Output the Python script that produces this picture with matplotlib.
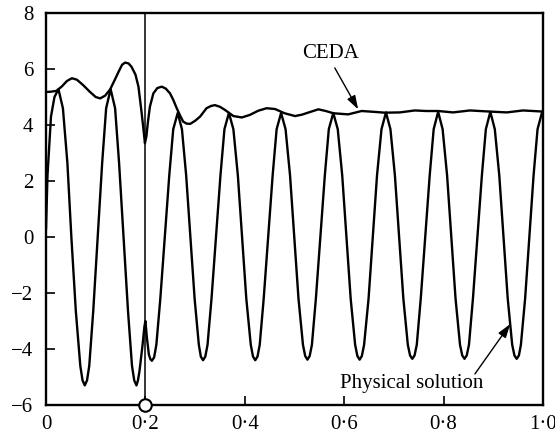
import matplotlib
matplotlib.use('Agg')
import matplotlib.pyplot as plt

plt.rcParams['font.family'] = ['Liberation Serif', 'DejaVu Serif']
plt.rcParams['font.size'] = 15

# === Data ===
phys_x = [0.000, 0.003, 0.010, 0.017, 0.025,
          0.034, 0.043, 0.051, 0.060, 0.069, 0.0735, 0.078, 0.0825,
          0.087, 0.095, 0.104, 0.113, 0.121, 0.130,
          0.139, 0.147, 0.156, 0.165, 0.173, 0.1775, 0.182,
          0.185, 0.188, 0.194, 0.198, 0.200, 0.203, 0.207, 0.210, 0.213, 0.2175,
          0.222, 0.230, 0.239, 0.248, 0.256, 0.265,
          0.2735, 0.282, 0.2905, 0.299, 0.3075, 0.3115, 0.316, 0.3205,
          0.325, 0.333, 0.342, 0.351, 0.359, 0.368,
          0.377, 0.386, 0.3945, 0.403, 0.412, 0.4165, 0.421, 0.4255,
          0.430, 0.438, 0.447, 0.456, 0.464, 0.473,
          0.482, 0.491, 0.4995, 0.508, 0.517, 0.5215, 0.526, 0.5305,
          0.535, 0.543, 0.552, 0.561, 0.569, 0.578,
          0.587, 0.596, 0.6045, 0.613, 0.622, 0.6265, 0.631, 0.6355,
          0.640, 0.649, 0.6575, 0.666, 0.675, 0.684,
          0.693, 0.702, 0.7105, 0.719, 0.728, 0.7325, 0.737, 0.7415,
          0.746, 0.754, 0.763, 0.772, 0.780, 0.789,
          0.798, 0.807, 0.8155, 0.824, 0.833, 0.8375, 0.842, 0.8465,
          0.851, 0.859, 0.868, 0.877, 0.885, 0.894,
          0.903, 0.912, 0.9205, 0.929, 0.938, 0.9425, 0.947, 0.9515,
          0.9555, 0.964, 0.9725, 0.981, 0.989, 0.998, 1.000]
phys_y = [0.3, 2.2, 4.3, 5.0, 5.28,
          4.6, 2.65, 0.0, -2.65, -4.6, -5.12, -5.3, -5.12,
          -4.6, -2.65, 0.0, 2.65, 4.6, 5.28,
          4.6, 2.65, 0.0, -2.65, -4.6, -5.12, -5.3,
          -5.12, -4.8, -3.9, -3.2, -3.0, -3.6, -4.2, -4.36, -4.42, -4.3,
          -3.85, -2.2, 0.0, 2.2, 3.85, 4.43,
          3.85, 2.2, 0.0, -2.2, -3.85, -4.27, -4.4, -4.27,
          -3.85, -2.2, 0.0, 2.2, 3.85, 4.43,
          3.85, 2.2, 0.0, -2.2, -3.85, -4.27, -4.4, -4.27,
          -3.85, -2.2, 0.0, 2.2, 3.85, 4.43,
          3.85, 2.2, 0.0, -2.2, -3.85, -4.25, -4.38, -4.25,
          -3.85, -2.2, 0.0, 2.2, 3.85, 4.43,
          3.85, 2.2, 0.0, -2.2, -3.85, -4.25, -4.38, -4.25,
          -3.85, -2.2, 0.0, 2.2, 3.85, 4.45,
          3.85, 2.2, 0.0, -2.2, -3.85, -4.23, -4.35, -4.23,
          -3.85, -2.2, 0.0, 2.2, 3.85, 4.47,
          3.85, 2.2, 0.0, -2.2, -3.85, -4.23, -4.35, -4.23,
          -3.85, -2.2, 0.0, 2.2, 3.85, 4.47,
          3.85, 2.2, 0.0, -2.2, -3.85, -4.23, -4.35, -4.23,
          -3.85, -2.2, 0.0, 2.2, 3.85, 4.45, 4.4]

ceda_x = [0.000, 0.010, 0.021, 0.032, 0.042, 0.052, 0.062, 0.075, 0.088,
          0.100, 0.109, 0.119, 0.129, 0.138, 0.146, 0.153, 0.159, 0.166,
          0.172, 0.180, 0.186, 0.1925, 0.197, 0.199, 0.202, 0.205, 0.209,
          0.216, 0.224, 0.233, 0.241, 0.2495, 0.256, 0.263, 0.270, 0.276,
          0.283, 0.290, 0.300, 0.310, 0.323, 0.332, 0.340, 0.350, 0.360,
          0.377, 0.394, 0.410, 0.427, 0.444, 0.461, 0.480, 0.501, 0.515,
          0.527, 0.548, 0.563, 0.578, 0.608, 0.635, 0.660, 0.682, 0.712,
          0.742, 0.765, 0.789, 0.819, 0.853, 0.893, 0.927, 0.960, 1.000]
ceda_y = [5.18, 5.19, 5.22, 5.38, 5.57, 5.67, 5.62, 5.42, 5.19,
          5.0, 4.95, 5.05, 5.27, 5.6, 5.9, 6.15, 6.23, 6.2,
          6.08, 5.8, 5.37, 4.42, 3.7, 3.35, 3.6, 4.1, 4.65,
          5.13, 5.32, 5.37, 5.3, 5.13, 4.9, 4.6, 4.33, 4.12,
          4.05, 4.04, 4.15, 4.3, 4.6, 4.68, 4.71, 4.65, 4.54,
          4.32, 4.27, 4.36, 4.51, 4.6, 4.57, 4.42, 4.32, 4.37,
          4.44, 4.56, 4.5, 4.42, 4.38, 4.5, 4.47, 4.44, 4.45,
          4.52, 4.5, 4.5, 4.45, 4.52, 4.48, 4.45, 4.52, 4.48]

x_ticks = [0.0, 0.2, 0.4, 0.6, 0.8, 1.0]
x_labels = ['0', '0\u00b72', '0\u00b74', '0\u00b76', '0\u00b78', '1\u00b70']
y_ticks = [-6, -4, -2, 0, 2, 4, 6, 8]
y_labels = ['\u22126', '\u22124', '\u22122', '0', '2', '4', '6', '8']

# === Plot ===
fig = plt.figure(figsize=(5.55, 4.41), dpi=100)
ax = fig.add_axes([0.0829, 0.0816, 0.8955, 0.8889])

ax.plot(phys_x, phys_y, color='black', lw=1.7)
ax.plot(ceda_x, ceda_y, color='black', lw=1.7)

# switch point
ax.axvline(0.2, color='black', lw=1.1)
ax.plot([0.2], [-6], marker='o', ms=9, mfc='white', mec='black', mew=1.5,
        clip_on=False, zorder=5)

ax.set_xlim(0, 1)
ax.set_ylim(-6, 8)
ax.set_xticks(x_ticks)
ax.set_xticklabels(x_labels)
ax.set_yticks(y_ticks)
ax.set_yticklabels(y_labels)
ax.tick_params(direction='in', length=6.5, width=1.2, top=False, right=False)
ax.tick_params(axis='x', pad=7)
ax.tick_params(axis='y', pad=9)
for s in ax.spines.values():
    s.set_linewidth(1.7)

arrow = dict(arrowstyle='-|>,head_length=0.55,head_width=0.18', color='black',
             lw=1.0, shrinkA=0, shrinkB=0)
ax.text(0.573, 6.57, 'CEDA', ha='center', va='center')
ax.annotate('', xy=(0.628, 4.56), xytext=(0.581, 6.04), arrowprops=arrow)
ax.text(0.735, -5.22, 'Physical solution', ha='center', va='center')
ax.annotate('', xy=(0.934, -3.11), xytext=(0.863, -4.89), arrowprops=arrow)

fig.savefig('out.png', dpi=100)
